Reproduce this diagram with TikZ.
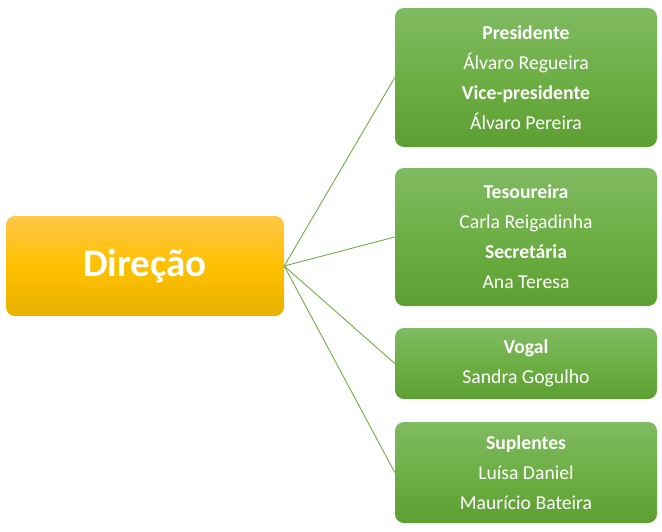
\documentclass[tikz,border=0pt]{standalone}
\usepackage{fontspec}
\setmainfont{Carlito}
\definecolor{gtop}{HTML}{80BA62}
\definecolor{gmid}{HTML}{6EAF45}
\definecolor{gbot}{HTML}{5E9F33}
\definecolor{ytop}{HTML}{FFC746}
\definecolor{ymid}{HTML}{FFC000}
\definecolor{ybot}{HTML}{E8B200}
\definecolor{lnk}{HTML}{70AD47}
\tikzset{
  gbox/.style={rectangle, rounded corners=9pt, inner sep=0pt, minimum width=262pt,
    top color=gtop, bottom color=gbot, middle color=gmid, draw=none, text=white,
    align=center, font=\fontsize{19.7}{30}\selectfont},
  dbox/.style={rectangle, rounded corners=9pt, inner sep=0pt, minimum width=278pt, minimum height=100pt,
    top color=ytop, bottom color=ybot, middle color=ymid, draw=none, text=white,
    font=\fontsize{39}{42}\selectfont\bfseries},
  link/.style={draw=lnk, line width=0.9pt}
}
\begin{document}
\begin{tikzpicture}[x=1pt,y=-1pt]
\useasboundingbox (0,0) rectangle (662,531);
\node[dbox] (dir) at (145,266) {Direção};
\node[gbox, minimum height=139pt] (p) at (526,77.5) {\textbf{Presidente}\\Álvaro Regueira\\\textbf{Vice-presidente}\\Álvaro Pereira};
\node[gbox, minimum height=138pt] (t) at (526,237) {\textbf{Tesoureira}\\Carla Reigadinha\\\textbf{Secretária}\\Ana Teresa};
\node[gbox, minimum height=71pt] (v) at (526,363.5) {\textbf{Vogal}\\Sandra Gogulho};
\node[gbox, minimum height=101pt] (s) at (526,472.5) {\textbf{Suplentes}\\Luísa Daniel\\Maurício Bateira};
\foreach \n in {p,t,v,s} \draw[link] (dir.east) -- (\n.west);
\end{tikzpicture}
\end{document}
